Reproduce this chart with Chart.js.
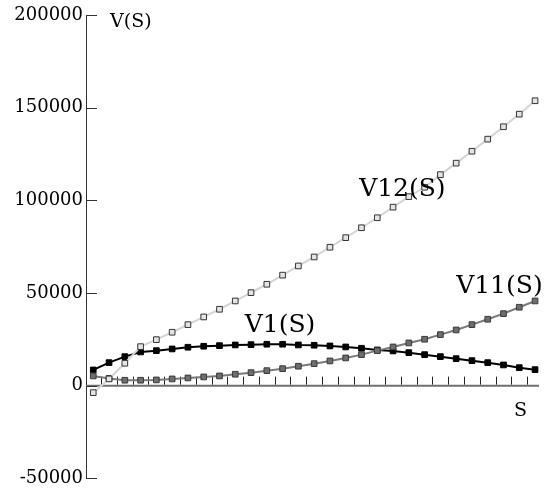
<!DOCTYPE html>
<html><head><meta charset="utf-8">
<script src="https://cdn.jsdelivr.net/npm/chart.js@4/dist/chart.umd.min.js"></script>
<style>html,body{margin:0;padding:0;background:#fff}#wrap{width:544px;height:493px}</style>
</head><body><div id="wrap"><canvas id="c" width="544" height="493"></canvas></div>
<script>
const S = [0,1,2,3,4,5,6,7,8,9,10,11,12,13,14,15,16,17,18,19,20,21,22,23,24,25,26,27,28];
const V1 = [8470,12410,15650,18180,18890,19800,20720,21260,21580,21960,22120,22340,22340,21960,21800,21420,20880,20180,19260,18720,17810,16730,15650,14570,13490,12410,11170,9710,8630];
const V11 = [5230,3900,2910,2910,3080,3620,4150,4690,5230,6150,7010,8090,9170,10470,11870,13330,14950,16730,18890,20880,23040,25040,27520,30050,32910,35830,38850,42300,45700];
const V12 = [-3780,3620,12090,21040,24820,28810,32910,37070,41220,45700,50180,54710,59620,64590,69440,74680,79860,85200,90600,96310,101980,107050,113850,120060,126480,133010,139700,146500,153730];
const yTicks = [-50000,0,50000,100000,150000,200000];
const xTickMarks = [0.5,1.5,2.5,3.5,4.5,5.5,6.5,7.5,8.5,9.5,10.5,11.5,12.5,13.5,14.5,15.5,16.5,17.5,18.5,19.5,20.5,21.5,22.5,23.5,24.5,25.5,26.5,27.5];
const seriesLabels = [
  {text:'V12(S)', x:16.85, y:102360},
  {text:'V11(S)', x:23.0, y:50180},
  {text:'V1(S)',  x:9.6,  y:28810}
];
const FAM = "'DejaVu Serif', serif";

const toPts = arr => arr.map((v,i)=>({x:S[i], y:v}));

const axesPlugin = {
  id:'axesPlugin',
  beforeDatasetsDraw(chart){
    const {ctx, scales:{x,y}, chartArea:ca} = chart;
    const y0 = y.getPixelForValue(0);
    ctx.save();
    ctx.strokeStyle = '#707070';
    ctx.lineWidth = 2;
    ctx.beginPath(); ctx.moveTo(ca.left, y0); ctx.lineTo(ca.right, y0); ctx.stroke();
    ctx.strokeStyle = '#222';
    ctx.lineWidth = 1;
    xTickMarks.forEach(t=>{
      const px = Math.round(x.getPixelForValue(t)) + 0.5;
      ctx.beginPath(); ctx.moveTo(px, y0 - 1); ctx.lineTo(px, y0 - 9); ctx.stroke();
    });
    ctx.strokeStyle = '#333';
    yTicks.forEach(t=>{
      const py = Math.round(y.getPixelForValue(t)) + 0.5;
      ctx.beginPath(); ctx.moveTo(ca.left, py); ctx.lineTo(ca.left + 11, py); ctx.stroke();
    });
    ctx.restore();
  },
  afterDatasetsDraw(chart){
    const {ctx, scales:{x,y}, chartArea:ca} = chart;
    ctx.save();
    ctx.fillStyle = '#000';
    ctx.textBaseline = 'alphabetic';
    ctx.textAlign = 'left';
    ctx.font = "25px " + FAM;
    seriesLabels.forEach(l=>{
      ctx.fillText(l.text, x.getPixelForValue(l.x), y.getPixelForValue(l.y));
    });
    ctx.font = "19px " + FAM;
    ctx.fillText('V(S)', ca.left + 24, ca.top + 12);
    ctx.fillText('S', ca.right - 25, y.getPixelForValue(0) + 30);
    ctx.restore();
  }
};

new Chart(document.getElementById('c'), {
  type:'line',
  data:{
    datasets:[
      {label:'V12(S)', data:toPts(V12), borderColor:'#d4d4d4', borderWidth:2, pointStyle:'rect', pointRadius:4, pointBackgroundColor:'#e4e4e4', pointBorderColor:'#333', pointBorderWidth:1, tension:0},
      {label:'V11(S)', data:toPts(V11), borderColor:'#7a7a7a', borderWidth:2, pointStyle:'rect', pointRadius:4, pointBackgroundColor:'#6e6e6e', pointBorderColor:'#3a3a3a', pointBorderWidth:1, tension:0},
      {label:'V1(S)', data:toPts(V1), borderColor:'#000', borderWidth:2, pointStyle:'rect', pointRadius:4, pointBackgroundColor:'#000', pointBorderColor:'#000', pointBorderWidth:1, tension:0}
    ]
  },
  options:{
    responsive:false,
    animation:false,
    devicePixelRatio:1,
    layout:{padding:{top:15, bottom:14.7, left:0, right:0}},
    plugins:{legend:{display:false}, tooltip:{enabled:false}},
    scales:{
      x:{type:'linear', min:-0.46, max:28.25, display:false},
      y:{
        type:'linear', min:-50000, max:200000,
        afterBuildTicks: s => { s.ticks = yTicks.map(v=>({value:v})); },
        afterFit: s => { s.width = 86; },
        grid:{display:false, drawTicks:false},
        border:{display:true, color:'#333', width:1},
        ticks:{padding:3, color:'#000', font:{family:FAM, size:18}, callback: v => String(v)}
      }
    }
  },
  plugins:[axesPlugin]
});
</script>
</body></html>
